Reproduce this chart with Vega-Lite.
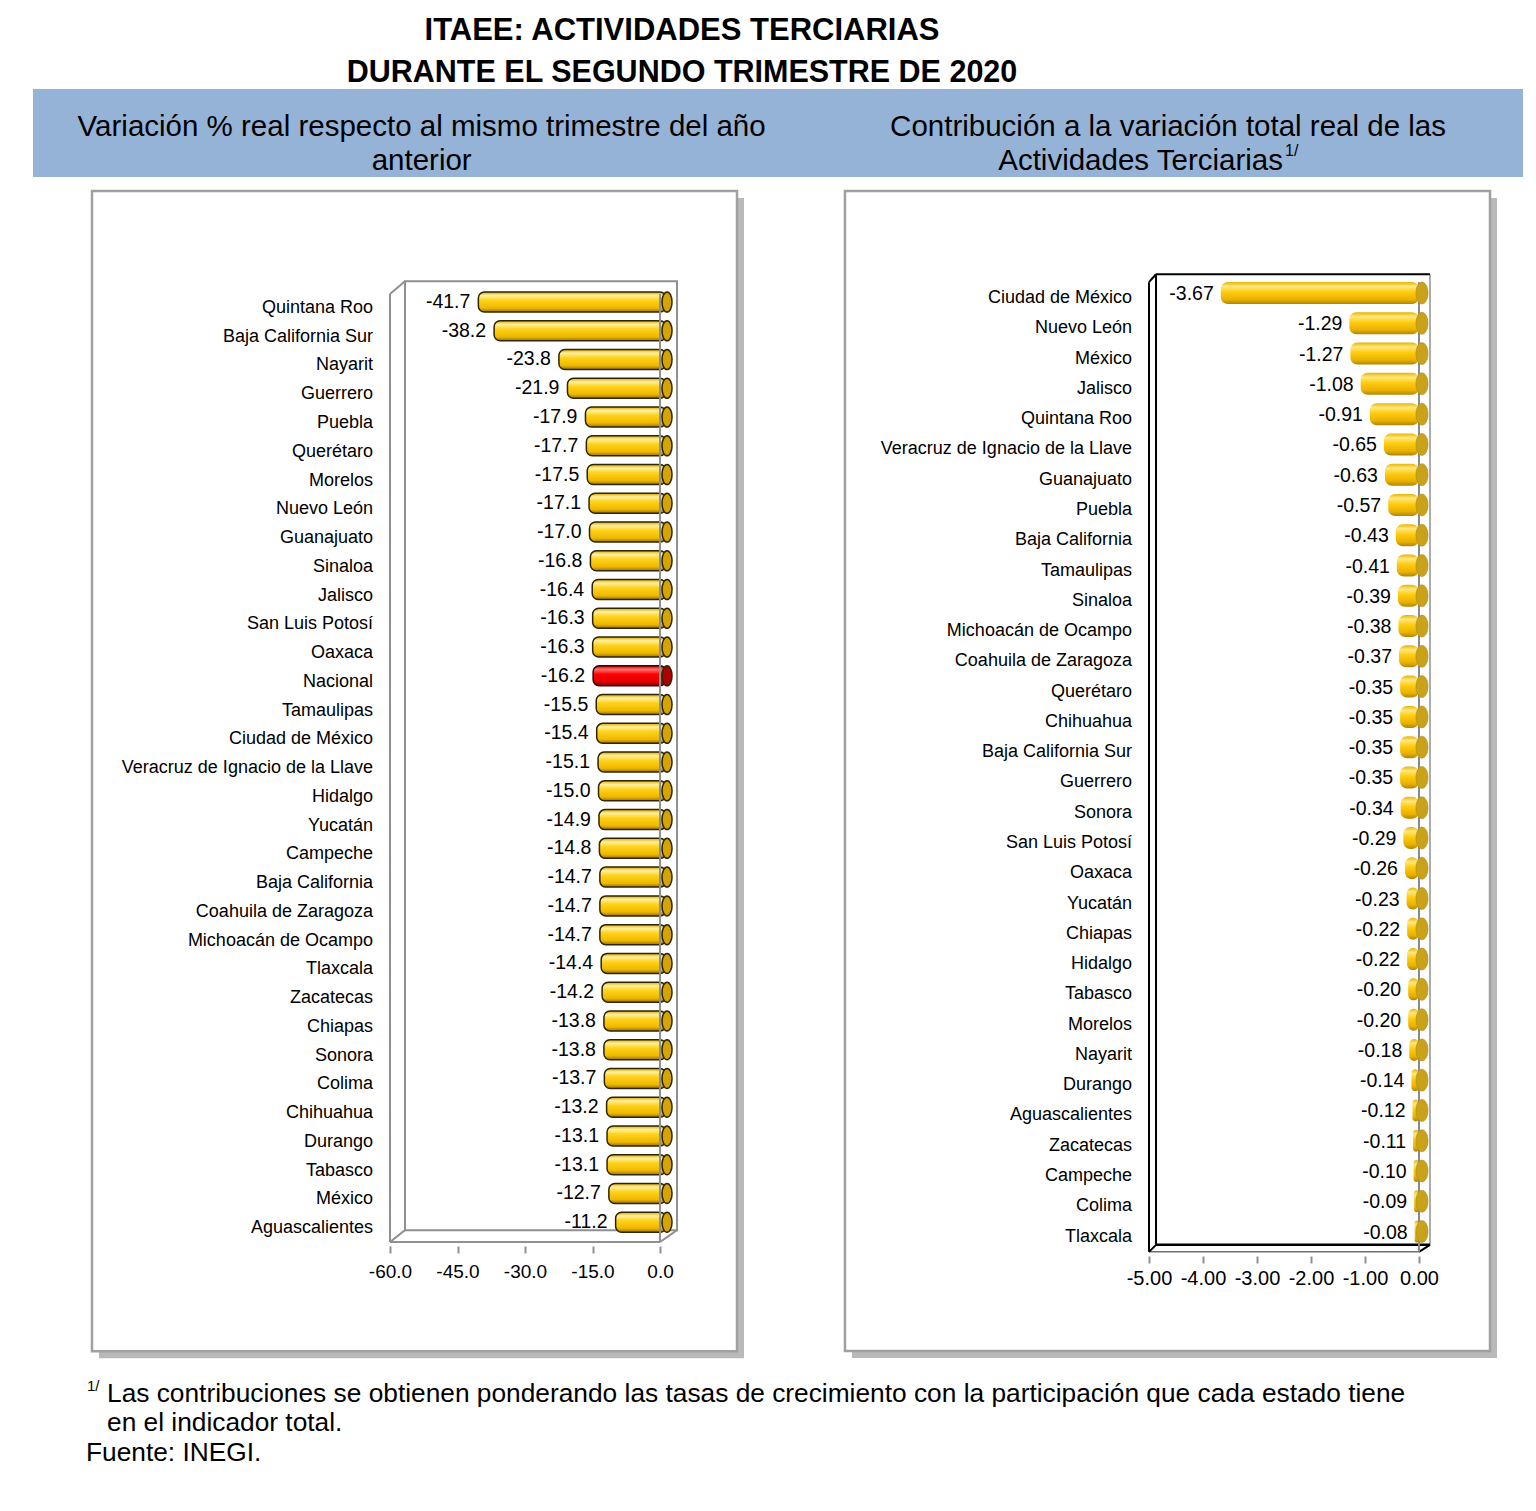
{
  "$schema": "https://vega.github.io/schema/vega-lite/v6.json",
  "padding": {"left": 33, "top": 14, "right": 0, "bottom": 0},
  "background": "white",
  "title": {
    "text": "ITAEE: ACTIVIDADES TERCIARIAS",
    "subtitle": "DURANTE EL SEGUNDO TRIMESTRE DE 2020",
    "anchor": "middle",
    "dx": -96,
    "fontSize": 31,
    "fontWeight": "bold",
    "color": "black",
    "subtitleFontSize": 30.5,
    "subtitleFontWeight": "bold",
    "subtitleColor": "black",
    "subtitlePadding": 11,
    "offset": 0
  },
  "config": {
    "font": "Liberation Sans",
    "locale": {"number": {"decimal": ".", "thousands": ",", "grouping": [3], "currency": ["$", ""], "minus": "-"}},
    "axisY": {"disable": true},
    "view": {"stroke": null}
  },
  "spacing": 0,
  "vconcat": [
    {
      "spacing": 0,
      "hconcat": [
        {
          "width": 782,
          "height": 88,
          "view": {"fill": "#95b3d7", "stroke": null},
          "data": {"values": [
            {"linea": 1, "texto": "Variación % real respecto al mismo trimestre del año"},
            {"linea": 2, "texto": "anterior"}
          ]},
          "mark": {"type": "text", "fontSize": 29.5, "align": "center", "baseline": "middle", "color": "black"},
          "encoding": {
            "x": {"datum": 0.497, "type": "quantitative", "scale": {"domain": [0, 1], "nice": false, "zero": false}, "axis": null},
            "y": {"field": "linea", "type": "quantitative", "scale": {"domain": [-0.118, 2.47], "nice": false, "zero": false, "reverse": true}, "axis": null},
            "text": {"field": "texto"}
          }
        },
        {
          "width": 708,
          "height": 88,
          "view": {"fill": "#95b3d7", "stroke": null},
          "layer": [
            {
              "data": {"values": [{"linea": 1, "texto": "Contribución a la variación total real de las"}]},
              "mark": {"type": "text", "fontSize": 29.5, "align": "center", "baseline": "middle", "color": "black"},
              "encoding": {
                "x": {"datum": 0.4986, "type": "quantitative", "scale": {"domain": [0, 1], "nice": false, "zero": false}, "axis": null},
                "y": {"field": "linea", "type": "quantitative", "scale": {"domain": [-0.118, 2.47], "nice": false, "zero": false, "reverse": true}, "axis": null},
                "text": {"field": "texto"}
              }
            },
            {
              "data": {"values": [{"linea": 2, "texto": "Actividades Terciarias"}]},
              "mark": {"type": "text", "fontSize": 29.5, "align": "right", "baseline": "middle", "color": "black"},
              "encoding": {
                "x": {"datum": 0.661, "type": "quantitative"},
                "y": {"field": "linea", "type": "quantitative"},
                "text": {"field": "texto"}
              }
            },
            {
              "data": {"values": [{"linea": 2, "texto": "1/"}]},
              "mark": {"type": "text", "fontSize": 16, "align": "left", "baseline": "middle", "color": "black", "dx": 2, "dy": -10},
              "encoding": {
                "x": {"datum": 0.661, "type": "quantitative"},
                "y": {"field": "linea", "type": "quantitative"},
                "text": {"field": "texto"}
              }
            }
          ]
        }
      ]
    },
    {
      "spacing": 0,
      "hconcat": [
        {
          "width": 782,
          "height": 1194,
          "data": {"values": [
            {"orden": 1, "estado": "Quintana Roo", "valor": -41.7},
            {"orden": 2, "estado": "Baja California Sur", "valor": -38.2},
            {"orden": 3, "estado": "Nayarit", "valor": -23.8},
            {"orden": 4, "estado": "Guerrero", "valor": -21.9},
            {"orden": 5, "estado": "Puebla", "valor": -17.9},
            {"orden": 6, "estado": "Querétaro", "valor": -17.7},
            {"orden": 7, "estado": "Morelos", "valor": -17.5},
            {"orden": 8, "estado": "Nuevo León", "valor": -17.1},
            {"orden": 9, "estado": "Guanajuato", "valor": -17.0},
            {"orden": 10, "estado": "Sinaloa", "valor": -16.8},
            {"orden": 11, "estado": "Jalisco", "valor": -16.4},
            {"orden": 12, "estado": "San Luis Potosí", "valor": -16.3},
            {"orden": 13, "estado": "Oaxaca", "valor": -16.3},
            {"orden": 14, "estado": "Nacional", "valor": -16.2},
            {"orden": 15, "estado": "Tamaulipas", "valor": -15.5},
            {"orden": 16, "estado": "Ciudad de México", "valor": -15.4},
            {"orden": 17, "estado": "Veracruz de Ignacio de la Llave", "valor": -15.1},
            {"orden": 18, "estado": "Hidalgo", "valor": -15.0},
            {"orden": 19, "estado": "Yucatán", "valor": -14.9},
            {"orden": 20, "estado": "Campeche", "valor": -14.8},
            {"orden": 21, "estado": "Baja California", "valor": -14.7},
            {"orden": 22, "estado": "Coahuila de Zaragoza", "valor": -14.7},
            {"orden": 23, "estado": "Michoacán de Ocampo", "valor": -14.7},
            {"orden": 24, "estado": "Tlaxcala", "valor": -14.4},
            {"orden": 25, "estado": "Zacatecas", "valor": -14.2},
            {"orden": 26, "estado": "Chiapas", "valor": -13.8},
            {"orden": 27, "estado": "Sonora", "valor": -13.8},
            {"orden": 28, "estado": "Colima", "valor": -13.7},
            {"orden": 29, "estado": "Chihuahua", "valor": -13.2},
            {"orden": 30, "estado": "Durango", "valor": -13.1},
            {"orden": 31, "estado": "Tabasco", "valor": -13.1},
            {"orden": 32, "estado": "México", "valor": -12.7},
            {"orden": 33, "estado": "Aguascalientes", "valor": -11.2}
          ]},
          "layer": [
            {
              "data": {"values": [{}]},
              "mark": {"type": "rect", "fill": "#8a8a8a", "opacity": 0.6, "xOffset": 7, "x2Offset": 7, "yOffset": 7, "y2Offset": 7, "clip": false},
              "encoding": {
                "x": {"datum": -126.22, "type": "quantitative", "scale": {"domain": [-139.33, 34.44], "nice": false, "zero": false}},
                "x2": {"datum": 17.11},
                "y": {"datum": -2.862, "type": "quantitative", "scale": {"domain": [-3.172, 38.0], "nice": false, "zero": false, "reverse": true}},
                "y2": {"datum": 37.483}
              }
            },
            {
              "data": {"values": [{}]},
              "mark": {"type": "rect", "fill": "white", "stroke": "#a0a0a0", "strokeWidth": 2.5},
              "encoding": {
                "x": {"datum": -126.22, "type": "quantitative"},
                "x2": {"datum": 17.11},
                "y": {"datum": -2.862, "type": "quantitative"},
                "y2": {"datum": 37.483}
              }
            },
            {
              "data": {"values": [{}]},
              "mark": {"type": "rect", "fillOpacity": 0, "stroke": "#909090", "strokeWidth": 2},
              "encoding": {
                "x": {"datum": -56.67, "type": "quantitative"},
                "x2": {"datum": 3.78},
                "y": {"datum": 0.276, "type": "quantitative"},
                "y2": {"datum": 33.276}
              }
            },
            {
              "data": {"values": [{}]},
              "mark": {"type": "rule", "color": "#909090", "strokeWidth": 2},
              "encoding": {
                "x": {"datum": -60, "type": "quantitative"},
                "y": {"datum": 0.724, "type": "quantitative"},
                "y2": {"datum": 33.69}
              }
            },
            {
              "data": {"values": [{}]},
              "mark": {"type": "rule", "color": "#909090", "strokeWidth": 2},
              "encoding": {
                "x": {"datum": -60, "type": "quantitative"},
                "x2": {"datum": -56.67},
                "y": {"datum": 0.724, "type": "quantitative"},
                "y2": {"datum": 0.276}
              }
            },
            {
              "data": {"values": [{}]},
              "mark": {"type": "rule", "color": "#909090", "strokeWidth": 2},
              "encoding": {
                "x": {"datum": -60, "type": "quantitative"},
                "x2": {"datum": 0},
                "y": {"datum": 33.69, "type": "quantitative"}
              }
            },
            {
              "data": {"values": [{}]},
              "mark": {"type": "rule", "color": "#909090", "strokeWidth": 2},
              "encoding": {
                "x": {"datum": -60, "type": "quantitative"},
                "x2": {"datum": -56.67},
                "y": {"datum": 33.69, "type": "quantitative"},
                "y2": {"datum": 33.276}
              }
            },
            {
              "data": {"values": [{}]},
              "mark": {"type": "rule", "color": "#909090", "strokeWidth": 2},
              "encoding": {
                "x": {"datum": 0, "type": "quantitative"},
                "x2": {"datum": 3.78},
                "y": {"datum": 33.69, "type": "quantitative"},
                "y2": {"datum": 33.276}
              }
            },
            {
              "mark": {"type": "text", "fontSize": 18, "align": "right", "baseline": "middle", "dy": 6, "color": "black"},
              "encoding": {
                "x": {"datum": -63.78, "type": "quantitative"},
                "y": {"field": "orden", "type": "quantitative"},
                "text": {"field": "estado"}
              }
            },
            {
              "transform": [{"filter": "datum.estado !== 'Nacional'"}],
              "mark": {
                "type": "bar", "height": 20, "cornerRadius": 6, "xOffset": 6, "x2Offset": 6,
                "stroke": "#2e2600", "strokeWidth": 1.5,
                "fill": {"gradient": "linear", "x1": 0, "y1": 0, "x2": 0, "y2": 1, "stops": [
                  {"offset": 0, "color": "#d9a800"},
                  {"offset": 0.18, "color": "#fff0a0"},
                  {"offset": 0.42, "color": "#ffd21a"},
                  {"offset": 0.8, "color": "#efb800"},
                  {"offset": 1, "color": "#9a7300"}
                ]}
              },
              "encoding": {
                "x": {"field": "valor", "type": "quantitative", "axis": {"values": [-60, -45, -30, -15, 0], "format": ".1f", "offset": -125, "zindex": 2, "domain": false, "grid": false, "ticks": true, "tickColor": "#909090", "tickSize": 7, "tickWidth": 2, "labelFontSize": 19, "labelColor": "black", "labelPadding": 9, "title": null}},
                "x2": {"datum": 0},
                "y": {"field": "orden", "type": "quantitative"}
              }
            },
            {
              "transform": [{"filter": "datum.estado === 'Nacional'"}],
              "mark": {
                "type": "bar", "height": 20, "cornerRadius": 6, "xOffset": 6, "x2Offset": 6,
                "stroke": "#3a0000", "strokeWidth": 1.5,
                "fill": {"gradient": "linear", "x1": 0, "y1": 0, "x2": 0, "y2": 1, "stops": [
                  {"offset": 0, "color": "#c00000"},
                  {"offset": 0.18, "color": "#ff7070"},
                  {"offset": 0.42, "color": "#ff0000"},
                  {"offset": 0.8, "color": "#e00000"},
                  {"offset": 1, "color": "#7a0000"}
                ]}
              },
              "encoding": {
                "x": {"field": "valor", "type": "quantitative"},
                "x2": {"datum": 0},
                "y": {"field": "orden", "type": "quantitative"}
              }
            },
            {
              "data": {"values": [{}]},
              "mark": {"type": "rule", "color": "#909090", "strokeWidth": 2},
              "encoding": {
                "x": {"datum": 0, "type": "quantitative"},
                "y": {"datum": 0.724, "type": "quantitative"},
                "y2": {"datum": 33.69}
              }
            },
            {
              "mark": {"type": "point", "filled": true, "shape": "M0,-1 A0.5,1 0 1,1 0,1 A0.5,1 0 1,1 0,-1 Z", "size": 400, "xOffset": 7, "stroke": "#2e2600", "strokeWidth": 1.5, "opacity": 1},
              "encoding": {
                "x": {"datum": 0, "type": "quantitative"},
                "y": {"field": "orden", "type": "quantitative"},
                "fill": {"condition": {"test": "datum.estado === 'Nacional'", "value": "#b00000"}, "value": "#d6a400"}
              }
            },
            {
              "mark": {"type": "text", "fontSize": 19.5, "align": "right", "baseline": "middle", "dx": -2, "color": "black"},
              "encoding": {
                "x": {"field": "valor", "type": "quantitative"},
                "y": {"field": "orden", "type": "quantitative"},
                "text": {"field": "valor", "type": "quantitative", "format": ".1f"}
              }
            }
          ]
        },
        {
          "width": 708,
          "height": 1194,
          "data": {"values": [
            {"orden": 1, "estado": "Ciudad de México", "valor": -3.67},
            {"orden": 2, "estado": "Nuevo León", "valor": -1.29},
            {"orden": 3, "estado": "México", "valor": -1.27},
            {"orden": 4, "estado": "Jalisco", "valor": -1.08},
            {"orden": 5, "estado": "Quintana Roo", "valor": -0.91},
            {"orden": 6, "estado": "Veracruz de Ignacio de la Llave", "valor": -0.65},
            {"orden": 7, "estado": "Guanajuato", "valor": -0.63},
            {"orden": 8, "estado": "Puebla", "valor": -0.57},
            {"orden": 9, "estado": "Baja California", "valor": -0.43},
            {"orden": 10, "estado": "Tamaulipas", "valor": -0.41},
            {"orden": 11, "estado": "Sinaloa", "valor": -0.39},
            {"orden": 12, "estado": "Michoacán de Ocampo", "valor": -0.38},
            {"orden": 13, "estado": "Coahuila de Zaragoza", "valor": -0.37},
            {"orden": 14, "estado": "Querétaro", "valor": -0.35},
            {"orden": 15, "estado": "Chihuahua", "valor": -0.35},
            {"orden": 16, "estado": "Baja California Sur", "valor": -0.35},
            {"orden": 17, "estado": "Guerrero", "valor": -0.35},
            {"orden": 18, "estado": "Sonora", "valor": -0.34},
            {"orden": 19, "estado": "San Luis Potosí", "valor": -0.29},
            {"orden": 20, "estado": "Oaxaca", "valor": -0.26},
            {"orden": 21, "estado": "Yucatán", "valor": -0.23},
            {"orden": 22, "estado": "Chiapas", "valor": -0.22},
            {"orden": 23, "estado": "Hidalgo", "valor": -0.22},
            {"orden": 24, "estado": "Tabasco", "valor": -0.20},
            {"orden": 25, "estado": "Morelos", "valor": -0.20},
            {"orden": 26, "estado": "Nayarit", "valor": -0.18},
            {"orden": 27, "estado": "Durango", "valor": -0.14},
            {"orden": 28, "estado": "Aguascalientes", "valor": -0.12},
            {"orden": 29, "estado": "Zacatecas", "valor": -0.11},
            {"orden": 30, "estado": "Campeche", "valor": -0.10},
            {"orden": 31, "estado": "Colima", "valor": -0.09},
            {"orden": 32, "estado": "Tlaxcala", "valor": -0.08}
          ]},
          "layer": [
            {
              "data": {"values": [{}]},
              "mark": {"type": "rect", "fill": "#8a8a8a", "opacity": 0.6, "xOffset": 7, "x2Offset": 7, "yOffset": 7, "y2Offset": 7, "clip": false},
              "encoding": {
                "x": {"datum": -10.63, "type": "quantitative", "scale": {"domain": [-11.185, 1.926], "nice": false, "zero": false}},
                "x2": {"datum": 1.315},
                "y": {"datum": -2.374, "type": "quantitative", "scale": {"domain": [-2.668, 36.441], "nice": false, "zero": false, "reverse": true}},
                "y2": {"datum": 35.949}
              }
            },
            {
              "data": {"values": [{}]},
              "mark": {"type": "rect", "fill": "white", "stroke": "#a0a0a0", "strokeWidth": 2.5},
              "encoding": {
                "x": {"datum": -10.63, "type": "quantitative"},
                "x2": {"datum": 1.315},
                "y": {"datum": -2.374, "type": "quantitative"},
                "y2": {"datum": 35.949}
              }
            },
            {
              "data": {"values": [{}]},
              "mark": {"type": "rule", "color": "#909090", "strokeWidth": 1.5},
              "encoding": {
                "x": {"datum": 0.204, "type": "quantitative"},
                "y": {"datum": 0.378, "type": "quantitative"},
                "y2": {"datum": 32.44}
              }
            },
            {
              "data": {"values": [{}]},
              "mark": {"type": "rule", "color": "black", "strokeWidth": 2},
              "encoding": {
                "x": {"datum": -4.87, "type": "quantitative"},
                "x2": {"datum": 0.204},
                "y": {"datum": 0.378, "type": "quantitative"}
              }
            },
            {
              "data": {"values": [{}]},
              "mark": {"type": "rule", "color": "black", "strokeWidth": 2},
              "encoding": {
                "x": {"datum": -4.87, "type": "quantitative"},
                "y": {"datum": 0.378, "type": "quantitative"},
                "y2": {"datum": 32.44}
              }
            },
            {
              "data": {"values": [{}]},
              "mark": {"type": "rule", "color": "black", "strokeWidth": 2},
              "encoding": {
                "x": {"datum": -5, "type": "quantitative"},
                "y": {"datum": 0.64, "type": "quantitative"},
                "y2": {"datum": 32.67}
              }
            },
            {
              "data": {"values": [{}]},
              "mark": {"type": "rule", "color": "black", "strokeWidth": 2},
              "encoding": {
                "x": {"datum": -5, "type": "quantitative"},
                "x2": {"datum": -4.87},
                "y": {"datum": 0.64, "type": "quantitative"},
                "y2": {"datum": 0.378}
              }
            },
            {
              "data": {"values": [{}]},
              "mark": {"type": "rule", "color": "black", "strokeWidth": 2.5},
              "encoding": {
                "x": {"datum": -4.87, "type": "quantitative"},
                "x2": {"datum": 0.204},
                "y": {"datum": 32.44, "type": "quantitative"}
              }
            },
            {
              "data": {"values": [{}]},
              "mark": {"type": "rule", "color": "#707070", "strokeWidth": 1.5},
              "encoding": {
                "x": {"datum": -5, "type": "quantitative"},
                "x2": {"datum": 0},
                "y": {"datum": 32.67, "type": "quantitative"}
              }
            },
            {
              "data": {"values": [{}]},
              "mark": {"type": "rule", "color": "black", "strokeWidth": 2},
              "encoding": {
                "x": {"datum": -5, "type": "quantitative"},
                "x2": {"datum": -4.87},
                "y": {"datum": 32.67, "type": "quantitative"},
                "y2": {"datum": 32.44}
              }
            },
            {
              "data": {"values": [{}]},
              "mark": {"type": "rule", "color": "black", "strokeWidth": 2},
              "encoding": {
                "x": {"datum": 0, "type": "quantitative"},
                "x2": {"datum": 0.204},
                "y": {"datum": 32.67, "type": "quantitative"},
                "y2": {"datum": 32.44}
              }
            },
            {
              "mark": {"type": "text", "fontSize": 18, "align": "right", "baseline": "middle", "dy": 5, "color": "black"},
              "encoding": {
                "x": {"datum": -5.315, "type": "quantitative"},
                "y": {"field": "orden", "type": "quantitative"},
                "text": {"field": "estado"}
              }
            },
            {
              "mark": {
                "type": "bar", "height": 22, "cornerRadius": 7,
                "fill": {"gradient": "linear", "x1": 0, "y1": 0, "x2": 0, "y2": 1, "stops": [
                  {"offset": 0, "color": "#e6b400"},
                  {"offset": 0.2, "color": "#ffe880"},
                  {"offset": 0.45, "color": "#ffcc10"},
                  {"offset": 0.8, "color": "#e8b000"},
                  {"offset": 1, "color": "#b08400"}
                ]}
              },
              "encoding": {
                "x": {"field": "valor", "type": "quantitative", "axis": {"values": [-5, -4, -3, -2, -1, 0], "format": ".2f", "offset": -115, "zindex": 2, "domain": false, "grid": false, "ticks": true, "tickColor": "#909090", "tickSize": 7, "tickWidth": 2, "labelFontSize": 20, "labelColor": "black", "labelPadding": 5, "title": null}},
                "x2": {"datum": 0},
                "y": {"field": "orden", "type": "quantitative"}
              }
            },
            {
              "data": {"values": [{}]},
              "mark": {"type": "rule", "color": "#8a8a8a", "strokeWidth": 2},
              "encoding": {
                "x": {"datum": 0, "type": "quantitative"},
                "y": {"datum": 0.64, "type": "quantitative"},
                "y2": {"datum": 32.67}
              }
            },
            {
              "mark": {"type": "point", "filled": true, "shape": "M0,-1 A0.55,1 0 1,1 0,1 A0.55,1 0 1,1 0,-1 Z", "size": 484, "xOffset": 3, "fill": "#c9a21c", "stroke": "#a88410", "strokeWidth": 0.5, "opacity": 1},
              "encoding": {
                "x": {"datum": 0, "type": "quantitative"},
                "y": {"field": "orden", "type": "quantitative"}
              }
            },
            {
              "mark": {"type": "text", "fontSize": 19.5, "align": "right", "baseline": "middle", "dx": -7, "dy": 1, "color": "black"},
              "encoding": {
                "x": {"field": "valor", "type": "quantitative"},
                "y": {"field": "orden", "type": "quantitative"},
                "text": {"field": "valor", "type": "quantitative", "format": ".2f"}
              }
            }
          ]
        }
      ]
    },
    {
      "width": 1490,
      "height": 110,
      "layer": [
        {
          "data": {"values": [{"linea": 1, "texto": "1/"}]},
          "mark": {"type": "text", "fontSize": 15, "align": "left", "baseline": "middle", "dx": 54, "dy": -8, "color": "black"},
          "encoding": {
            "x": {"datum": 0, "type": "quantitative", "scale": {"domain": [0, 1], "nice": false, "zero": false}, "axis": null},
            "y": {"field": "linea", "type": "quantitative", "scale": {"domain": [0.22, 3.95], "nice": false, "zero": false, "reverse": true}, "axis": null},
            "text": {"field": "texto"}
          }
        },
        {
          "data": {"values": [
            {"linea": 1, "texto": "Las contribuciones se obtienen ponderando las tasas de crecimiento con la participación que cada estado tiene"},
            {"linea": 2, "texto": "en el indicador total."}
          ]},
          "mark": {"type": "text", "fontSize": 26.3, "align": "left", "baseline": "middle", "dx": 74, "color": "black"},
          "encoding": {
            "x": {"datum": 0, "type": "quantitative"},
            "y": {"field": "linea", "type": "quantitative"},
            "text": {"field": "texto"}
          }
        },
        {
          "data": {"values": [{"linea": 3, "texto": "Fuente: INEGI."}]},
          "mark": {"type": "text", "fontSize": 26.3, "align": "left", "baseline": "middle", "dx": 53, "color": "black"},
          "encoding": {
            "x": {"datum": 0, "type": "quantitative"},
            "y": {"field": "linea", "type": "quantitative"},
            "text": {"field": "texto"}
          }
        }
      ]
    }
  ]
}
